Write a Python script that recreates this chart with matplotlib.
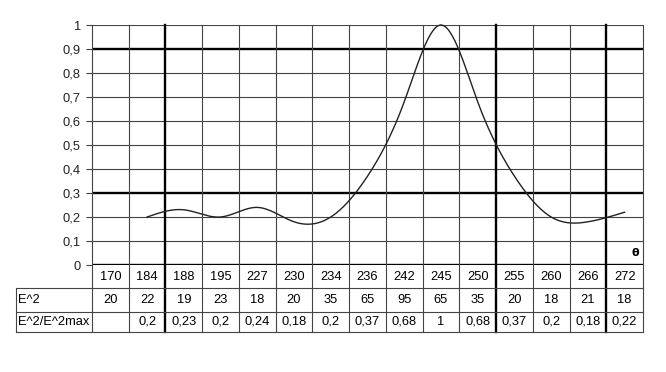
import numpy as np
import matplotlib
matplotlib.use('Agg')
from matplotlib import pyplot as plt

plt.rcParams['font.family'] = ['Liberation Sans', 'DejaVu Sans']

angles = ['170', '184', '188', '195', '227', '230', '234', '236',
          '242', '245', '250', '255', '260', '266', '272']
e2 = ['20', '22', '19', '23', '18', '20', '35', '65',
      '95', '65', '35', '20', '18', '21', '18']
e2_norm = [None, 0.2, 0.23, 0.2, 0.24, 0.18, 0.2, 0.37,
           0.68, 1, 0.68, 0.37, 0.2, 0.18, 0.22]
bold_cols = [2, 11, 14]     # boundaries drawn heavy
bold_rows = [0.3, 0.9]


def natural_spline(x, y, n=400):
    x = np.asarray(x, float)
    y = np.asarray(y, float)
    k = len(x)
    h = np.diff(x)
    A = np.zeros((k, k))
    b = np.zeros(k)
    A[0, 0] = A[-1, -1] = 1
    for i in range(1, k - 1):
        A[i, i - 1] = h[i - 1]
        A[i, i] = 2 * (h[i - 1] + h[i])
        A[i, i + 1] = h[i]
        b[i] = 6 * ((y[i + 1] - y[i]) / h[i] - (y[i] - y[i - 1]) / h[i - 1])
    m = np.linalg.solve(A, b)
    xs = np.linspace(x[0], x[-1], n)
    idx = np.clip(np.searchsorted(x, xs) - 1, 0, k - 2)
    x0, x1 = x[idx], x[idx + 1]
    hh = x1 - x0
    t1 = x1 - xs
    t0 = xs - x0
    ys = (m[idx] * t1 ** 3 + m[idx + 1] * t0 ** 3) / (6 * hh) \
        + (y[idx] / hh - m[idx] * hh / 6) * t1 \
        + (y[idx + 1] / hh - m[idx + 1] * hh / 6) * t0
    return xs, ys


fig = plt.figure(figsize=(6.66, 3.72), dpi=100)
ax = fig.add_axes([92 / 666, 1 - 265 / 372, 551 / 666, 240 / 372])
ax.set_xlim(0, len(angles))
ax.set_ylim(0, 1)
for s in ax.spines.values():
    s.set_visible(False)

thin = dict(color='#444444', lw=0.8)
heavy = dict(color='black', lw=1.7)

# horizontal grid
for v in np.arange(1, 11) / 10:
    ax.axhline(v, **(heavy if round(v, 1) in bold_rows else thin))
ax.axhline(0, **heavy)

# table row boundaries (in data units below the axis)
r1, r2, r3 = -23 / 240, -47 / 240, -67 / 240
lab_left = (16 - 92) / (551 / 15)

# vertical grid through plot and table
for i in range(len(angles) + 1):
    st = heavy if i in bold_cols else thin
    ax.plot([i, i], [1, r3], clip_on=False, **st)
for y in [r1, r2, r3]:
    ax.plot([lab_left, len(angles)], [y, y], clip_on=False, **thin)
ax.plot([lab_left, lab_left], [r1, r3], clip_on=False, **thin)

xs_pts = [i + 0.5 for i, v in enumerate(e2_norm) if v is not None]
ys_pts = [v for v in e2_norm if v is not None]
sx, sy = natural_spline(xs_pts, ys_pts)
ax.plot(sx, sy, color='#222222', lw=1.0, clip_on=False)

fs = 9.3
ax.set_yticks(np.arange(0, 11) / 10)
ax.set_yticklabels(['0'] + ['0,%d' % i for i in range(1, 10)] + ['1'])
ax.tick_params(axis='y', length=4, width=0.8, color='#444444', pad=4,
               labelsize=fs, labelcolor='#222222')
ax.set_xticks([])

ax.text(len(angles) - 0.1, 0.05, 'θ', ha='right', va='center',
        fontsize=8, fontweight='bold', family='DejaVu Sans')

for i, a in enumerate(angles):
    ax.text(i + 0.5, r1 / 2, a, ha='center', va='center', fontsize=fs,
            clip_on=False)
    ax.text(i + 0.5, (r1 + r2) / 2, e2[i], ha='center', va='center',
            fontsize=fs, clip_on=False)
    v = e2_norm[i]
    if v is not None:
        txt = ('%g' % v).replace('.', ',')
        ax.text(i + 0.5, (r2 + r3) / 2, txt, ha='center', va='center',
                fontsize=fs, clip_on=False)
ax.text(lab_left + 0.05, (r1 + r2) / 2, 'E^2', ha='left', va='center',
        fontsize=fs)
ax.text(lab_left + 0.05, (r2 + r3) / 2, 'E^2/E^2max', ha='left',
        va='center', fontsize=fs)

fig.savefig('out.png', dpi=100)
